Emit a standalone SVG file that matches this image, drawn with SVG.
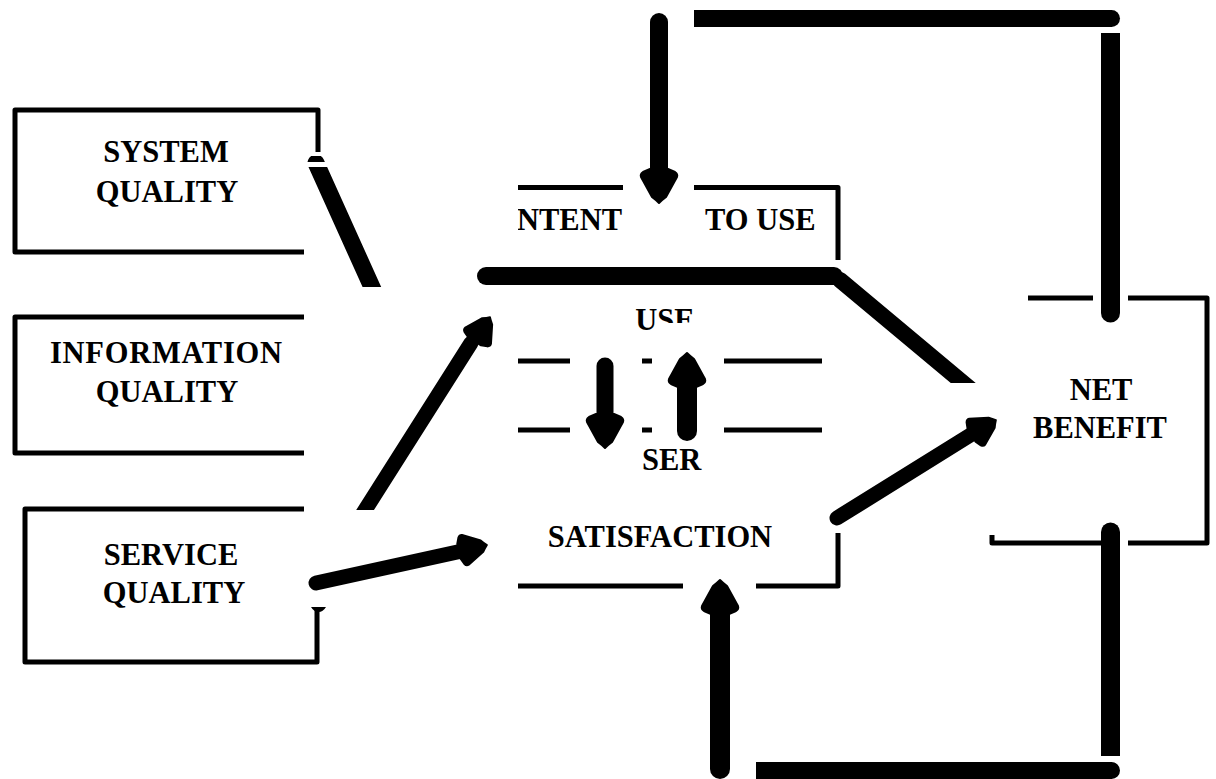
<svg xmlns="http://www.w3.org/2000/svg" xmlns:xlink="http://www.w3.org/1999/xlink" width="1216" height="779" viewBox="0 0 1216 779">
  <style>
    .edge { fill: none; stroke: #000; stroke-width: 5; stroke-linejoin: round; stroke-linecap: butt; }
    .lbl { font-family: "Liberation Serif", "Times New Roman", serif; font-weight: bold; font-size: 30.5px; fill: #000; text-anchor: middle; }
    .lbl-start { text-anchor: start; }
    .shaft { fill: none; stroke: #000; stroke-linecap: round; }
    .solid { fill: #000; stroke: none; }
    .head { fill: #000; stroke: #000; stroke-width: 2; stroke-linejoin: round; }
  </style>
  <defs>
    <!-- blunt arrowhead pointing along +x, tip at the origin -->
    <path id="ah" d="M0,0 Q-3,-3 -6,-7 L-26,-18 Q-29,-19 -31,-16 L-34,-9 V9 L-31,16 Q-29,19 -26,18 L-6,7 Q-3,3 0,0 Z"/>
    <clipPath id="clip-sys">
      <rect x="300" y="156" width="40" height="6"/>
      <rect x="300" y="167" width="120" height="120"/>
    </clipPath>
    <clipPath id="clip-svc-use">
      <rect x="340" y="290" width="180" height="220"/>
    </clipPath>
    <clipPath id="clip-int-net">
      <rect x="830" y="268" width="170" height="115"/>
    </clipPath>
    <clipPath id="clip-use">
      <rect x="628" y="295" width="28" height="45"/>
      <rect x="656" y="295" width="50" height="28"/>
    </clipPath>
    <clipPath id="clip-intent">
      <rect x="518" y="195" width="105" height="45"/>
    </clipPath>
  </defs>

  <rect width="1216" height="779" fill="#fff"/>

  <g id="system-quality">
    <path class="edge" d="M304,252 H15 V110 H318 V152"/>
    <text class="lbl" x="166" y="162">SYSTEM</text>
    <text class="lbl" x="167" y="202">QUALITY</text>
  </g>

  <g id="information-quality">
    <path class="edge" d="M304,317 H15 V453 H304"/>
    <text class="lbl" x="166" y="363" textLength="232" lengthAdjust="spacing">INFORMATION</text>
    <text class="lbl" x="167" y="402">QUALITY</text>
  </g>

  <g id="service-quality">
    <path class="edge" d="M304,509 H25 V662 H317 V610"/>
    <text class="lbl" x="171" y="565">SERVICE</text>
    <text class="lbl" x="174" y="603">QUALITY</text>
  </g>

  <g id="intention-to-use">
    <path class="edge" d="M518,187.5 H623"/>
    <path class="edge" d="M694,187.5 H838 V260"/>
    <g clip-path="url(#clip-intent)">
      <text class="lbl lbl-start" x="517" y="230">NTENT</text>
    </g>
    <text class="lbl lbl-start" x="705" y="230">TO USE</text>
  </g>

  <g id="use">
    <g clip-path="url(#clip-use)">
      <text class="lbl" x="665" y="330">USE</text>
    </g>
    <path class="edge" d="M518,361 H570 M642,361 H652 M724,361 H822"/>
  </g>

  <g id="user-satisfaction">
    <path class="edge" d="M518,430 H570 M642,430 H652 M724,430 H822"/>
    <text class="lbl lbl-start" x="642" y="470">SER</text>
    <text class="lbl" x="660" y="547">SATISFACTION</text>
    <path class="edge" d="M518,586 H683"/>
    <path class="edge" d="M756,586 H838 V533"/>
  </g>

  <g id="net-benefit">
    <path class="edge" d="M1028,298 H1093"/>
    <path class="edge" d="M1128,298 H1207 V543 H1128"/>
    <path class="edge" d="M1102,543 H992 V535"/>
    <text class="lbl" x="1101" y="400">NET</text>
    <text class="lbl" x="1100" y="438">BENEFIT</text>
  </g>

  <g id="connectors">
    <!-- system quality towards the centre -->
    <line class="shaft" x1="316" y1="163" x2="380" y2="305" stroke-width="17" clip-path="url(#clip-sys)"/>

    <!-- service quality to use -->
    <g clip-path="url(#clip-svc-use)">
      <line class="shaft" x1="360" y1="518" x2="471" y2="343" stroke-width="15" stroke-linecap="butt"/>
    </g>
    <use xlink:href="#ah" class="head" transform="translate(490,317) rotate(-57.6) scale(0.85)"/>

    <!-- service quality to user satisfaction -->
    <line class="shaft" x1="316" y1="583" x2="462" y2="551" stroke-width="15"/>
    <use xlink:href="#ah" class="head" transform="translate(487,545) rotate(-12.7) scale(0.85)"/>
    <path class="solid" d="M311,607 H326 Q323,612 318.5,612 Q314,612 311,607 Z"/>

    <!-- intention / use bar and its link to net benefit -->
    <line class="shaft" x1="486" y1="276" x2="834" y2="276" stroke-width="18"/>
    <line class="shaft" x1="840" y1="280" x2="980" y2="397" stroke-width="16" stroke-linecap="butt" clip-path="url(#clip-int-net)"/>

    <!-- user satisfaction to net benefit -->
    <line class="shaft" x1="837" y1="518" x2="972" y2="434" stroke-width="15"/>
    <use xlink:href="#ah" class="head" transform="translate(996,420) rotate(-31.8) scale(0.85)"/>

    <!-- use <-> user satisfaction -->
    <line class="shaft" x1="605" y1="366" x2="605" y2="418" stroke-width="17"/>
    <use xlink:href="#ah" class="head" transform="translate(605,448) rotate(90)"/>
    <line class="shaft" x1="687" y1="380" x2="687" y2="431" stroke-width="20"/>
    <use xlink:href="#ah" class="head" transform="translate(687,353) rotate(-90)"/>

    <!-- feedback loop: net benefit back to intention to use -->
    <path class="solid" d="M1101,33 H1120 V313 A9.5,9.5 0 0 1 1101,313 Z"/>
    <path class="solid" d="M694,10 H1111.5 A8.5,8.5 0 0 1 1111.5,27 H694 Z"/>
    <line class="shaft" x1="659" y1="22" x2="659" y2="172" stroke-width="18"/>
    <use xlink:href="#ah" class="head" transform="translate(659,203) rotate(90)"/>

    <!-- feedback loop: net benefit back to user satisfaction -->
    <path class="solid" d="M1101,756 V532 A9.5,9.5 0 0 1 1120,532 V756 Z"/>
    <path class="solid" d="M756,762 H1111.5 A8.5,8.5 0 0 1 1111.5,779 V790 H756 Z"/>
    <line class="shaft" x1="720" y1="769" x2="720" y2="612" stroke-width="20"/>
    <use xlink:href="#ah" class="head" transform="translate(720,580) rotate(-90)"/>
  </g>
</svg>
